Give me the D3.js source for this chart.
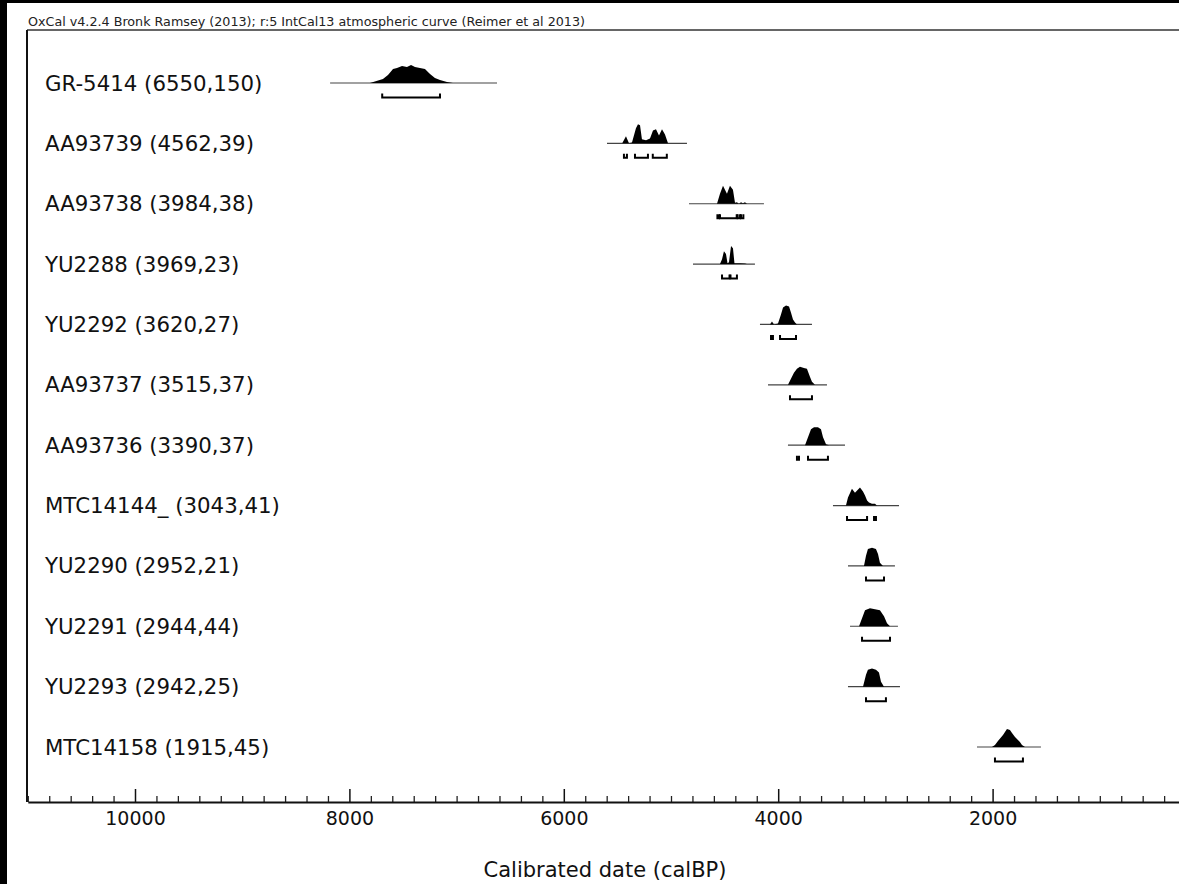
<!DOCTYPE html>
<html>
<head>
<meta charset="utf-8">
<script src="https://cdn.jsdelivr.net/npm/d3@7"></script>
<style>
  body { margin: 0; background: #000; }
  svg { display: block; }
</style>
</head>
<body>
<div id="chart"></div>
<script>
// sample names with their radiocarbon age (BP, error)
var labels = ["GR-5414 (6550,150)", "AA93739 (4562,39)", "AA93738 (3984,38)", "YU2288 (3969,23)",
  "YU2292 (3620,27)", "AA93737 (3515,37)", "AA93736 (3390,37)", "MTC14144_ (3043,41)",
  "YU2290 (2952,21)", "YU2291 (2944,44)", "YU2293 (2942,25)", "MTC14158 (1915,45)"];

// plotted range of each likelihood (calBP)
var plotFrom = [8180, 5597, 4832, 4795, 4170, 4095, 3909, 3489, 3349, 3330, 3349, 2146];
var plotTo   = [6623, 4851, 4133, 4217, 3685, 3545, 3377, 2873, 2911, 2883, 2864, 1549];

// calibrated probability, [calBP, relative prob]
var probs = [
  [[7808,0],[7687,0.21],[7640,0.42],[7593,0.74],[7556,0.79],[7509,0.89],[7463,0.84],[7425,0.95],[7388,0.84],[7342,0.79],[7295,0.74],[7248,0.47],[7202,0.26],[7155,0.16],[7090,0.05],[7034,0]],
  [[5455,0],[5420,0.37],[5392,0],[5364,0.05],[5327,0.79],[5308,1.0],[5289,0.95],[5271,0.21],[5233,0.16],[5196,0.26],[5168,0.68],[5140,0.74],[5112,0.42],[5084,0.74],[5056,0.47],[5028,0]],
  [[4571,0],[4543,0.53],[4515,0.95],[4478,0.53],[4450,0.95],[4422,0.74],[4403,0.05],[4385,0.08],[4366,0],[4347,0.08],[4329,0.03],[4310,0.08],[4291,0]],
  [[4543,0],[4524,0.26],[4506,0.68],[4487,0.53],[4473,0.05],[4459,0.1],[4440,0.95],[4422,0.84],[4408,0.05],[4357,0.05],[4310,0.03],[4291,0]],
  [[4077,0],[4058,0.16],[4039,0],[4002,0.05],[3974,0.53],[3955,0.89],[3927,1.0],[3899,0.95],[3881,0.63],[3862,0.26],[3843,0.1],[3825,0]],
  [[3909,0],[3881,0.32],[3853,0.63],[3825,0.84],[3797,0.95],[3760,0.89],[3732,0.84],[3704,0.42],[3685,0.16],[3657,0]],
  [[3750,0],[3722,0.42],[3694,0.84],[3666,0.95],[3629,0.95],[3601,0.84],[3582,0.42],[3554,0.05],[3526,0]],
  [[3368,0],[3349,0.42],[3312,0.89],[3284,0.68],[3237,0.95],[3209,0.74],[3190,0.53],[3171,0.26],[3153,0.16],[3125,0.1],[3097,0.1],[3079,0]],
  [[3200,0],[3181,0.53],[3163,0.89],[3125,0.95],[3088,0.89],[3069,0.63],[3051,0.16],[3023,0]],
  [[3246,0],[3218,0.42],[3190,0.84],[3144,0.95],[3097,0.89],[3051,0.84],[3013,0.53],[2985,0.16],[2957,0]],
  [[3209,0],[3181,0.63],[3163,0.89],[3125,0.95],[3088,0.89],[3060,0.74],[3041,0.26],[3013,0]],
  [[2006,0],[1978,0.1],[1950,0.32],[1903,0.63],[1866,0.95],[1838,0.89],[1819,0.74],[1791,0.53],[1745,0.26],[1726,0.1],[1698,0]]
];

// 95.4% ranges
var ranges = [
  [[7694,7155]],
  [[5439,5411],[5336,5215],[5170,5039]],
  [[4567,4552],[4543,4387],[4378,4356],[4347,4325]],
  [[4524,4454],[4445,4385]],
  [[4067,4049],[3983,3834]],
  [[3890,3685]],
  [[3825,3806],[3722,3536]],
  [[3358,3171],[3106,3088]],
  [[3181,3013]],
  [[3218,2957]],
  [[3181,2995]],
  [[1978,1717]]
];

var majorTicks = [10000, 8000, 6000, 4000, 2000];
var header = "OxCal v4.2.4 Bronk Ramsey (2013); r:5 IntCal13 atmospheric curve (Reimer et al 2013)";
var xTitle = "Calibrated date (calBP)";

var W = 1179, H = 884;
var left = 27.8, axisY = 802;

var svg = d3.select("#chart").append("svg")
  .attr("width", W)
  .attr("height", H);

// black border, white page
svg.append("rect").attr("width", W).attr("height", H).style("fill", "#000");
svg.append("rect").attr("x", 7).attr("y", 3).attr("width", W - 7).attr("height", H - 3).style("fill", "#fff");

var x = d3.scaleLinear()
  .domain([11000, 0])
  .range([left, left + 11 * 107.2]);

var y = d3.scalePoint()
  .domain(labels)
  .range([83, 747]);

// height of distributions
var h = d3.scaleLinear().domain([0, 1]).range([0, 19]);

// header
svg.append("text")
  .attr("x", 28)
  .attr("y", 26)
  .attr("textLength", 557)
  .attr("lengthAdjust", "spacingAndGlyphs")
  .style("font-family", "DejaVu Sans")
  .style("font-size", "13px")
  .style("fill", "#222")
  .text(header);

// frame
svg.append("line")
  .attr("x1", 27).attr("x2", W).attr("y1", 30).attr("y2", 30)
  .style("stroke", "#333").style("stroke-width", 1.5);
svg.append("line")
  .attr("x1", 27).attr("x2", 27).attr("y1", 30).attr("y2", axisY)
  .style("stroke", "#111").style("stroke-width", 2);

// minor ticks every 200
var minor = d3.range(11000, -1, -200).filter(function(d) { return d % 2000 != 0; });
svg.append("g")
  .attr("transform", "translate(0," + axisY + ")")
  .call(d3.axisBottom(x).tickValues(minor).tickSize(-6).tickSizeOuter(0).tickFormat(""))
  .call(function(g) { g.select(".domain").remove(); })
  .selectAll("line").style("stroke", "#222").style("stroke-width", 1.3);

var xAxis = svg.append("g")
  .attr("transform", "translate(0," + axisY + ")")
  .call(d3.axisBottom(x).tickValues(majorTicks).tickSize(-13).tickSizeOuter(0).tickPadding(10).tickFormat(d3.format("d")));
xAxis.select(".domain").style("stroke", "#111").style("stroke-width", 2.2);
xAxis.selectAll(".tick line").style("stroke", "#111").style("stroke-width", 1.5);
xAxis.selectAll("text")
  .style("font-family", "DejaVu Sans")
  .style("font-size", "19px")
  .style("fill", "#111");

svg.append("text")
  .attr("x", 605)
  .attr("y", 877)
  .style("text-anchor", "middle")
  .style("font-family", "DejaVu Sans")
  .style("font-size", "21px")
  .style("fill", "#111")
  .text(xTitle);

// rows
var rows = svg.selectAll("g.row")
  .data(labels)
  .enter().append("g")
  .attr("class", "row");

rows.append("text")
  .attr("x", 45)
  .attr("y", function(d) { return y(d) + 7.5; })
  .style("font-family", "DejaVu Sans")
  .style("font-size", "21.3px")
  .style("fill", "#111")
  .text(function(d) { return d; });

rows.append("line")
  .attr("x1", function(d, i) { return x(plotFrom[i]); })
  .attr("x2", function(d, i) { return x(plotTo[i]); })
  .attr("y1", function(d) { return y(d); })
  .attr("y2", function(d) { return y(d); })
  .style("stroke", "#444")
  .style("stroke-width", 1.2);

rows.append("path")
  .attr("d", function(d, i) {
    var base = y(d);
    return d3.area()
      .x(function(p) { return x(p[0]); })
      .y0(base)
      .y1(function(p) { return base - h(p[1]); })(probs[i]);
  })
  .style("fill", "#000");

rows.each(function(d, i) {
  var by = y(d) + 14.5;
  d3.select(this).selectAll("path.range")
    .data(ranges[i])
    .enter().append("path")
    .attr("class", "range")
    .attr("d", function(r) {
      return "M" + x(r[0]) + "," + (by - 4) + "V" + by + "H" + x(r[1]) + "V" + (by - 4);
    })
    .style("fill", "none")
    .style("stroke", "#000")
    .style("stroke-width", 2);
});
</script>
</body>
</html>
